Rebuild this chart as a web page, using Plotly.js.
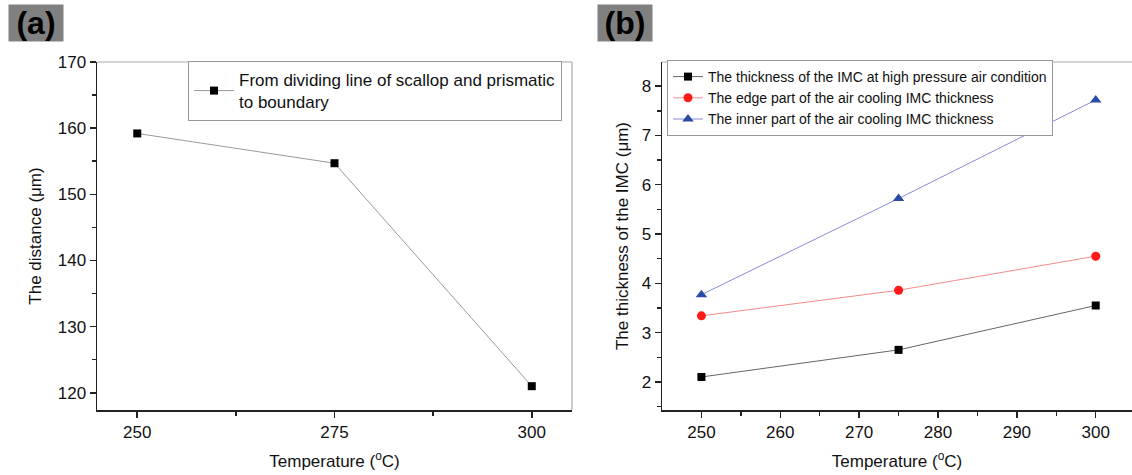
<!DOCTYPE html>
<html>
<head>
<meta charset="utf-8">
<script src="https://cdn.plot.ly/plotly-3.0.1.min.js"></script>
<style>html,body{margin:0;padding:0;background:#fff;overflow:hidden}</style>
</head>
<body>
<div id="chart" style="width:1132px;height:475px"></div>
<script>
// Panel (a)
const tempA = [250, 275, 300];
const distanceA = [159.2, 154.7, 121.0];
const nameA = "From dividing line of scallop and prismatic<br>to boundary";

// Panel (b)
const tempB = [250, 275, 300];
const highPressure = [2.1, 2.65, 3.55];
const edgePart = [3.34, 3.86, 4.55];
const innerPart = [3.77, 5.72, 7.72];
const namesB = [
  "The thickness of the IMC at high pressure air condition",
  "The edge part of the air cooling IMC thickness",
  "The inner part of the air cooling IMC thickness"
];

const FONT = "Liberation Sans, Arial, sans-serif";
const TITLEFONT = {family: FONT, size: 17, color: "#111"};
const axisCommon = {
  showline: true, linecolor: "#222", linewidth: 1.5,
  ticks: "outside", ticklen: 6, tickwidth: 1.5, tickcolor: "#222",
  showgrid: false, zeroline: false,
  tickfont: {family: FONT, size: 17, color: "#111"}
};
const minorStyle = {ticks: "outside", ticklen: 4, tickwidth: 1.5, tickcolor: "#222"};

const traces = [
  {x: tempA, y: distanceA, name: nameA, type: "scatter", mode: "lines+markers",
   xaxis: "x", yaxis: "y", legend: "legend",
   line: {color: "#9a9a9a", width: 1}, marker: {symbol: "square", size: 8, color: "#000"}},
  {x: tempB, y: highPressure, name: namesB[0], type: "scatter", mode: "lines+markers",
   xaxis: "x2", yaxis: "y2", legend: "legend2",
   line: {color: "#666", width: 1}, marker: {symbol: "square", size: 8, color: "#000"}},
  {x: tempB, y: edgePart, name: namesB[1], type: "scatter", mode: "lines+markers",
   xaxis: "x2", yaxis: "y2", legend: "legend2",
   line: {color: "#f28c8c", width: 1}, marker: {symbol: "circle", size: 9, color: "#ff1a1a"}},
  {x: tempB, y: innerPart, name: namesB[2], type: "scatter", mode: "lines+markers",
   xaxis: "x2", yaxis: "y2", legend: "legend2",
   line: {color: "#8a8ad8", width: 1}, marker: {symbol: "triangle-up", size: 10, color: "#2a4aa8"}}
];

const yDom = [65/475, 413/475];
const layout = {
  width: 1132, height: 475,
  margin: {l: 0, r: 0, t: 0, b: 0},
  paper_bgcolor: "#fff", plot_bgcolor: "#fff",
  font: {family: FONT, color: "#111"},
  xaxis: Object.assign({}, axisCommon, {
    domain: [97/1132, 572/1132], range: [244.9, 305.1], anchor: "y",
    tickvals: [250, 275, 300],
    minor: Object.assign({tickvals: [262.5, 287.5]}, minorStyle),
    title: {text: "Temperature (<sup>o</sup>C)", font: TITLEFONT, standoff: 14}
  }),
  yaxis: Object.assign({}, axisCommon, {
    domain: yDom, range: [117.4, 170], anchor: "x",
    tickvals: [120, 130, 140, 150, 160, 170],
    minor: Object.assign({tickvals: [125, 135, 145, 155, 165]}, minorStyle),
    title: {text: "The distance (μm)", font: TITLEFONT, standoff: 12}
  }),
  xaxis2: Object.assign({}, axisCommon, {
    domain: [662/1132, 1], range: [245, 304.6], anchor: "y2",
    tickvals: [250, 260, 270, 280, 290, 300],
    minor: Object.assign({tickvals: [255, 265, 275, 285, 295]}, minorStyle),
    title: {text: "Temperature (<sup>o</sup>C)", font: TITLEFONT, standoff: 14}
  }),
  yaxis2: Object.assign({}, axisCommon, {
    domain: yDom, range: [1.43, 8.49], anchor: "x2",
    tickvals: [2, 3, 4, 5, 6, 7, 8],
    minor: Object.assign({tickvals: [1.5, 2.5, 3.5, 4.5, 5.5, 6.5, 7.5, 8.5]}, minorStyle),
    title: {text: "The thickness of the IMC (μm)", font: TITLEFONT, standoff: 8}
  }),
  showlegend: true,
  legend: {x: 188/1132, y: 414/475, xanchor: "left", yanchor: "top",
    bgcolor: "#fff", bordercolor: "#999", borderwidth: 1,
    font: {family: FONT, size: 17, color: "#111"}, tracegroupgap: 0, itemwidth: 40},
  legend2: {x: 667/1132, y: 415/475, xanchor: "left", yanchor: "top",
    bgcolor: "#fff", bordercolor: "#999", borderwidth: 1,
    font: {family: FONT, size: 14, color: "#111"}, tracegroupgap: 0, itemwidth: 30},
  shapes: [
    {type: "line", xref: "x domain", yref: "y domain", x0: 0, x1: 1, y0: 1, y1: 1, line: {color: "#aaa", width: 1.2}},
    {type: "line", xref: "x domain", yref: "y domain", x0: 1, x1: 1, y0: 0, y1: 1, line: {color: "#aaa", width: 1.2}},
    {type: "line", xref: "x2 domain", yref: "y2 domain", x0: 0, x1: 1, y0: 1, y1: 1, line: {color: "#aaa", width: 1.2}}
  ],
  annotations: [
    {text: "<b>(a)</b>", xref: "paper", yref: "paper", x: 8/1132, y: 1 - 4/475, xanchor: "left", yanchor: "top",
     showarrow: false, bgcolor: "#808080", font: {family: FONT, size: 32, color: "#000"},
     width: 54, height: 36, borderpad: 0},
    {text: "<b>(b)</b>", xref: "paper", yref: "paper", x: 597/1132, y: 1 - 4/475, xanchor: "left", yanchor: "top",
     showarrow: false, bgcolor: "#808080", font: {family: FONT, size: 32, color: "#000"},
     width: 54, height: 36, borderpad: 0}
  ]
};

Plotly.newPlot("chart", traces, layout, {displayModeBar: false, staticPlot: true});
</script>
</body>
</html>
